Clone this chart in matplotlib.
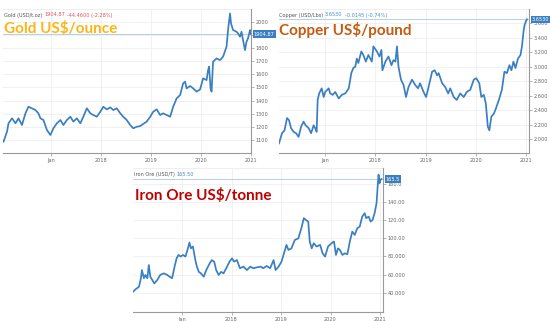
import matplotlib
matplotlib.use("Agg")
import matplotlib.pyplot as plt
import matplotlib.transforms as mtransforms

# ---------------- data ----------------
gold_t = [2016.05, 2016.12, 2016.15, 2016.22, 2016.29, 2016.35, 2016.42, 2016.49, 2016.55, 2016.62,
          2016.69, 2016.75, 2016.79, 2016.85, 2016.92, 2016.99, 2017.05, 2017.12, 2017.19, 2017.25,
          2017.32, 2017.39, 2017.45, 2017.52, 2017.59, 2017.65, 2017.72, 2017.79, 2017.85, 2017.92,
          2017.99, 2018.05, 2018.12, 2018.19, 2018.25, 2018.32, 2018.39, 2018.45, 2018.52, 2018.59,
          2018.65, 2018.72, 2018.79, 2018.85, 2018.92, 2018.99, 2019.05, 2019.12, 2019.19, 2019.25,
          2019.32, 2019.39, 2019.45, 2019.52, 2019.59, 2019.65, 2019.69, 2019.72, 2019.79, 2019.85,
          2019.92, 2019.99, 2020.05, 2020.12, 2020.15, 2020.17, 2020.20, 2020.22, 2020.25, 2020.32,
          2020.39, 2020.45, 2020.52, 2020.55, 2020.59, 2020.61, 2020.65, 2020.72, 2020.75, 2020.79,
          2020.82, 2020.85, 2020.89, 2020.92, 2020.95, 2020.99, 2021.01]
gold_v = [1087, 1163, 1227, 1265, 1227, 1265, 1214, 1303, 1353, 1341,
          1328, 1303, 1265, 1252, 1176, 1138, 1189, 1227, 1252, 1214,
          1252, 1277, 1240, 1265, 1227, 1277, 1341, 1303, 1290, 1277,
          1315, 1353, 1333, 1348, 1328, 1341, 1303, 1277, 1252, 1214,
          1189, 1201, 1206, 1222, 1240, 1277, 1315, 1333, 1290, 1303,
          1290, 1277, 1353, 1417, 1442, 1531, 1544, 1493, 1511, 1493,
          1468, 1485, 1569, 1556, 1632, 1658, 1493, 1468, 1696, 1721,
          1708, 1734, 1810, 1937, 2063, 1987, 1937, 1924, 1911, 1886,
          1924, 1861, 1784, 1848, 1873, 1937, 1904.87]

copper_t = [2016.08, 2016.14, 2016.19, 2016.24, 2016.28, 2016.32, 2016.37, 2016.42, 2016.47, 2016.52,
            2016.57, 2016.61, 2016.67, 2016.72, 2016.77, 2016.80, 2016.83, 2016.85, 2016.88, 2016.93,
            2016.97, 2017.00, 2017.07, 2017.10, 2017.15, 2017.20, 2017.27, 2017.33, 2017.40, 2017.47,
            2017.52, 2017.56, 2017.60, 2017.63, 2017.66, 2017.72, 2017.76, 2017.81, 2017.86, 2017.93,
            2017.96, 2018.03, 2018.08, 2018.12, 2018.14, 2018.20, 2018.26, 2018.32, 2018.36, 2018.40,
            2018.43, 2018.46, 2018.51, 2018.56, 2018.61, 2018.66, 2018.73, 2018.79, 2018.85, 2018.89,
            2018.96, 2019.01, 2019.06, 2019.13, 2019.18, 2019.23, 2019.26, 2019.33, 2019.39, 2019.45,
            2019.49, 2019.56, 2019.62, 2019.69, 2019.76, 2019.82, 2019.89, 2019.96, 2020.01, 2020.07,
            2020.11, 2020.16, 2020.20, 2020.24, 2020.27, 2020.31, 2020.36, 2020.40, 2020.46, 2020.52,
            2020.57, 2020.62, 2020.67, 2020.71, 2020.75, 2020.79, 2020.84, 2020.89, 2020.92, 2020.95,
            2020.97, 2021.00, 2021.02]
copper_v = [1.94, 2.08, 2.12, 2.29, 2.26, 2.15, 2.10, 2.08, 2.03, 2.17,
            2.24, 2.19, 2.15, 2.08, 2.19, 2.15, 2.10, 2.54, 2.63, 2.70,
            2.58, 2.65, 2.70, 2.63, 2.61, 2.65, 2.56, 2.61, 2.63, 2.70,
            2.91, 2.98, 3.00, 3.11, 3.05, 3.21, 3.16, 3.07, 3.16, 3.07,
            3.28, 3.21, 3.14, 3.23, 2.95, 3.07, 3.14, 3.02, 3.09, 3.07,
            3.28, 3.00, 2.82, 2.75, 2.58, 2.72, 2.82, 2.75, 2.70, 2.77,
            2.65, 2.58, 2.72, 2.93, 2.95, 2.88, 2.91, 2.77, 2.72, 2.63,
            2.70, 2.58, 2.54, 2.63, 2.58, 2.65, 2.68, 2.82, 2.84, 2.77,
            2.58, 2.61, 2.49, 2.17, 2.12, 2.31, 2.35, 2.42, 2.54, 2.68,
            2.93, 2.91, 3.02, 2.95, 3.07, 2.98, 3.11, 3.16, 3.28, 3.48,
            3.57, 3.63, 3.653]

iron_t = [2016.01, 2016.06, 2016.13, 2016.17, 2016.19, 2016.23, 2016.26, 2016.30, 2016.33, 2016.36,
          2016.40, 2016.44, 2016.50, 2016.56, 2016.63, 2016.70, 2016.75, 2016.80, 2016.85, 2016.89,
          2016.93, 2016.97, 2017.02, 2017.07, 2017.11, 2017.15, 2017.18, 2017.22, 2017.27, 2017.30,
          2017.34, 2017.38, 2017.44, 2017.49, 2017.56, 2017.60, 2017.65, 2017.69, 2017.74, 2017.79,
          2017.84, 2017.91, 2017.96, 2018.01, 2018.05, 2018.11, 2018.17, 2018.24, 2018.31, 2018.38,
          2018.44, 2018.51, 2018.59, 2018.64, 2018.71, 2018.78, 2018.85, 2018.89, 2018.95, 2019.01,
          2019.08, 2019.11, 2019.15, 2019.21, 2019.28, 2019.35, 2019.42, 2019.46, 2019.50, 2019.55,
          2019.58, 2019.62, 2019.66, 2019.72, 2019.79, 2019.84, 2019.89, 2019.95, 2020.02, 2020.07,
          2020.11, 2020.15, 2020.19, 2020.24, 2020.29, 2020.34, 2020.39, 2020.44, 2020.49, 2020.54,
          2020.59, 2020.64, 2020.69, 2020.72, 2020.77, 2020.81, 2020.85, 2020.89, 2020.93, 2020.95,
          2020.97, 2020.99, 2021.01, 2021.03]
iron_v = [41, 43.7, 46.6, 55.9, 65, 56, 59.6, 56, 70.6, 57.7,
          54, 50.3, 54, 59.6, 61.4, 59.6, 57.7, 56, 68.8, 78,
          81.7, 79.9, 81.7, 79.9, 87.2, 95.4, 89, 91, 76, 68.8,
          63, 61.4, 57.7, 65, 72.5, 76, 74.3, 65, 59.6, 63,
          61.4, 68.8, 74.3, 78, 74.3, 76, 67, 68.8, 65, 68.8,
          67, 68, 68.8, 67, 69.5, 67, 76, 65, 68.8, 74.3,
          87.2, 92.8, 87.2, 89, 98.3, 100, 113, 122.3, 120.4, 118.6,
          96.5, 89, 94.6, 91, 92.8, 83.5, 79.9, 91, 94.6, 96.5,
          81.7, 89, 87.2, 81.7, 83.5, 82.5, 96.5, 107.5, 103.8, 111.2,
          113, 124, 127.8, 122.3, 124, 118.6, 120.4, 127.8, 139, 155.5,
          170.3, 161, 164.7, 165.5]

x_ticks = [2017, 2018, 2019, 2020, 2021]
x_labels = ["Jan", "2018", "2019", "2020", "2021"]

gold_yticks = [1100, 1200, 1300, 1400, 1500, 1600, 1700, 1800, 1900, 2000]
gold_ylabels = ["1100", "1200", "1300", "1400", "1500", "1600", "1700", "1800", "", "2000"]
copper_yticks = [2.0, 2.2, 2.4, 2.6, 2.8, 3.0, 3.2, 3.4, 3.6]
copper_ylabels = ["2.000", "2.200", "2.400", "2.600", "2.800", "3.000", "3.200", "3.400", "3.600"]
iron_yticks = [40, 60, 80, 100, 120, 140, 160]
iron_ylabels = ["40.000", "60.000", "80.000", "100.00", "120.00", "140.00", "160.0"]

# ---------------- style ----------------
W, H = 550, 321
LINE = "#3a7fc2"
GRID = "#ececec"
AX = "#9a9a9a"
TXT = "#666666"

fig = plt.figure(figsize=(W / 100, H / 100), dpi=100)
fig.patch.set_facecolor("white")


def px_axes(left, top, right, bottom):
    return fig.add_axes([left / W, 1 - bottom / H, (right - left) / W, (bottom - top) / H])


def panel(ax, t, v, xlim, ylim, yticks, ylabels, last_label):
    ax.plot(t, v, color=LINE, lw=1.25, solid_joinstyle="round", zorder=3)
    ax.set_xlim(*xlim)
    ax.set_ylim(*ylim)
    ax.set_xticks(x_ticks)
    ax.set_xticklabels(x_labels)
    ax.set_yticks(yticks)
    ax.set_yticklabels(ylabels)
    ax.yaxis.tick_right()
    for s in ["left", "top"]:
        ax.spines[s].set_visible(False)
    for s in ["right", "bottom"]:
        ax.spines[s].set_color(AX)
        ax.spines[s].set_linewidth(0.8)
    ax.tick_params(axis="both", labelsize=3.6, colors=AX, labelcolor=TXT, length=2, width=0.5, pad=1.5)
    ax.grid(True, color=GRID, lw=0.5, zorder=0)
    ax.axhline(ylim[1], color=GRID, lw=0.6)
    ax.set_facecolor("white")
    last = v[-1]
    ax.axhline(last, color="#b5cfe9", lw=0.7, zorder=2)
    tr = mtransforms.blended_transform_factory(ax.transAxes, ax.transData)
    ax.text(1.012, last, last_label, transform=tr, fontsize=3.6, color="white", va="center", ha="left",
            bbox=dict(boxstyle="square,pad=0.25", fc=LINE, ec="none"), zorder=5, clip_on=False)


ax_g = px_axes(3, 9, 251, 153)
panel(ax_g, gold_t, gold_v, (2016.04, 2021.01), (1001, 2097), gold_yticks, gold_ylabels, "1904.87")

ax_c = px_axes(279, 9, 529, 153)
panel(ax_c, copper_t, copper_v, (2016.08, 2021.06), (1.807, 3.796), copper_yticks, copper_ylabels, "3.6530")

ax_i = px_axes(133, 168, 383, 312)
panel(ax_i, iron_t, iron_v, (2016.01, 2021.06), (18.7, 177.7), iron_yticks, iron_ylabels, "165.5")

# ---------------- headers ----------------
def header(x, y, name, parts):
    t = fig.text(x / W, 1 - y / H, name, fontsize=3.6, color="#555555", va="center", ha="left")
    fig.canvas.draw()
    r = fig.canvas.get_renderer()
    bb = t.get_window_extent(r)
    xx = bb.x1 + 2
    for s, c in parts:
        tt = fig.text(xx / W, 1 - y / H, s, fontsize=3.6, color=c, va="center", ha="left")
        bb = tt.get_window_extent(r)
        xx = bb.x1 + 2


header(4, 15, "Gold (USD/t.oz)", [("1904.87", "#e0525b"), ("-44.4600 (-2.28%)", "#e0525b")])
header(279, 15, "Copper (USD/Lbs)", [("3.6530", "#4a8ccc"), ("-0.0145 (-0.74%)", "#4a8ccc")])
header(134, 175, "Iron Ore (USD/T)", [("165.50", "#4a8ccc")])

# ---------------- big titles ----------------
fig.text(4 / W, 1 - 28.5 / H, "Gold US$/ounce", fontsize=11, fontweight="bold", family="Lato",
         color="#FDB515", va="center", ha="left")
fig.text(279 / W, 1 - 30.5 / H, "Copper US$/pound", fontsize=11, fontweight="bold", family="Lato",
         color="#C55A11", va="center", ha="left")
fig.text(135 / W, 1 - 195 / H, "Iron Ore US$/tonne", fontsize=11, fontweight="bold", family="Lato",
         color="#C00000", va="center", ha="left")

fig.savefig("out.png", dpi=100, facecolor="white")
